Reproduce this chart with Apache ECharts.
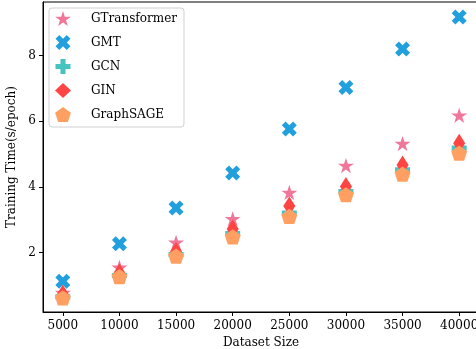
<!DOCTYPE html>
<html>
<head>
<meta charset="utf-8">
<script src="https://cdn.jsdelivr.net/npm/echarts@6/dist/echarts.min.js"></script>
<style>
html, body { margin: 0; padding: 0; background: #fff; }
#main { width: 476px; height: 349px; }
</style>
</head>
<body>
<div id="main"></div>
<script>
// dataset sizes (x)
var sizes = [5000, 10000, 15000, 20000, 25000, 30000, 35000, 40000];
var yTicks = [2, 4, 6, 8];

// training time per epoch
var gtransformer = [0.78, 1.55, 2.31, 3.03, 3.83, 4.65, 5.32, 6.18];
var gmt = [1.13, 2.27, 3.36, 4.42, 5.76, 7.03, 8.2, 9.17];
var gcn = [0.65, 1.3, 1.94, 2.58, 3.2, 3.86, 4.52, 5.18];
var gin = [0.73, 1.38, 2.03, 2.72, 3.42, 4.01, 4.67, 5.33];
var graphsage = [0.62, 1.27, 1.89, 2.48, 3.1, 3.76, 4.39, 5.03];

var serif = 'DejaVu Serif';

var STAR = 'path://M50,0 L61.2,34.5 L97.6,34.5 L68.2,55.9 L79.4,90.5 L50,69.1 L20.6,90.5 L31.8,55.9 L2.4,34.5 L38.8,34.5 Z';
var XMARK = 'path://M0,25 L25,0 L50,25 L75,0 L100,25 L75,50 L100,75 L75,100 L50,75 L25,100 L0,75 L25,50 Z';
var PLUS = 'path://M33,0 L67,0 L67,33 L100,33 L100,67 L67,67 L67,100 L33,100 L33,67 L0,67 L0,33 L33,33 Z';
var PENTA = 'path://M50,0 L97.6,34.5 L79.4,90.5 L20.6,90.5 L2.4,34.5 Z';

function pairs(vals) {
	var out = [];
	for (var i = 0; i < sizes.length; i++) {
		out.push([sizes[i], vals[i]]);
	}
	return out;
}

function mk(name, vals, symbol, size, color) {
	return {
		name: name,
		type: 'scatter',
		data: pairs(vals),
		symbol: symbol,
		symbolSize: size,
		symbolKeepAspect: true,
		itemStyle: { color: color, opacity: 1 },
		emphasis: { disabled: true }
	};
}

var chart = echarts.init(document.getElementById('main'));
chart.setOption({
	animation: false,
	backgroundColor: '#fff',
	grid: {
		left: 43, top: 2, width: 436, bottom: 37,
		containLabel: false,
		outerBoundsMode: 'none',
		show: true, borderColor: '#000', borderWidth: 1, backgroundColor: 'transparent'
	},
	legend: {
		orient: 'vertical',
		left: 49, top: 8,
		itemWidth: 16, itemHeight: 15,
		itemGap: 9,
		padding: [3, 7, 5, 6],
		backgroundColor: 'rgba(255,255,255,0.8)',
		borderColor: '#d0d0d0', borderWidth: 1, borderRadius: 3,
		textStyle: { fontFamily: serif, fontSize: 12, color: '#000', padding: [0, 0, 0, 15] }
	},
	xAxis: {
		type: 'value',
		min: 3250, max: 41750,
		name: 'Dataset Size',
		nameLocation: 'middle',
		nameGap: 25,
		nameTextStyle: { fontFamily: serif, fontSize: 12, color: '#000' },
		splitLine: { show: false },
		axisLine: { show: true, lineStyle: { color: '#000', width: 1 } },
		axisTick: { show: true, length: 4, inside: false, customValues: sizes, lineStyle: { color: '#000' } },
		axisLabel: {
			customValues: sizes, fontFamily: serif, fontSize: 12, color: '#000', margin: 8,
			formatter: function (v) { return String(v); }
		}
	},
	yAxis: {
		type: 'value',
		min: 0.19, max: 9.63,
		name: 'Training Time(s/epoch)',
		nameLocation: 'middle',
		nameGap: 22,
		nameTextStyle: { fontFamily: serif, fontSize: 12, color: '#000' },
		splitLine: { show: false },
		axisLine: { show: true, lineStyle: { color: '#000', width: 1 } },
		axisTick: { show: true, length: 4, inside: false, customValues: yTicks, lineStyle: { color: '#000' } },
		axisLabel: { customValues: yTicks, fontFamily: serif, fontSize: 12, color: '#000', margin: 7 }
	},
	series: [
		mk('GTransformer', gtransformer, STAR, 16, '#F0779A'),
		mk('GMT', gmt, XMARK, 15, '#22A0DE'),
		mk('GCN', gcn, PLUS, 15, '#47C4C0'),
		mk('GIN', gin, 'diamond', [12, 19], '#FF4444'),
		mk('GraphSAGE', graphsage, PENTA, 16, '#FFA062')
	]
});
</script>
</body>
</html>
